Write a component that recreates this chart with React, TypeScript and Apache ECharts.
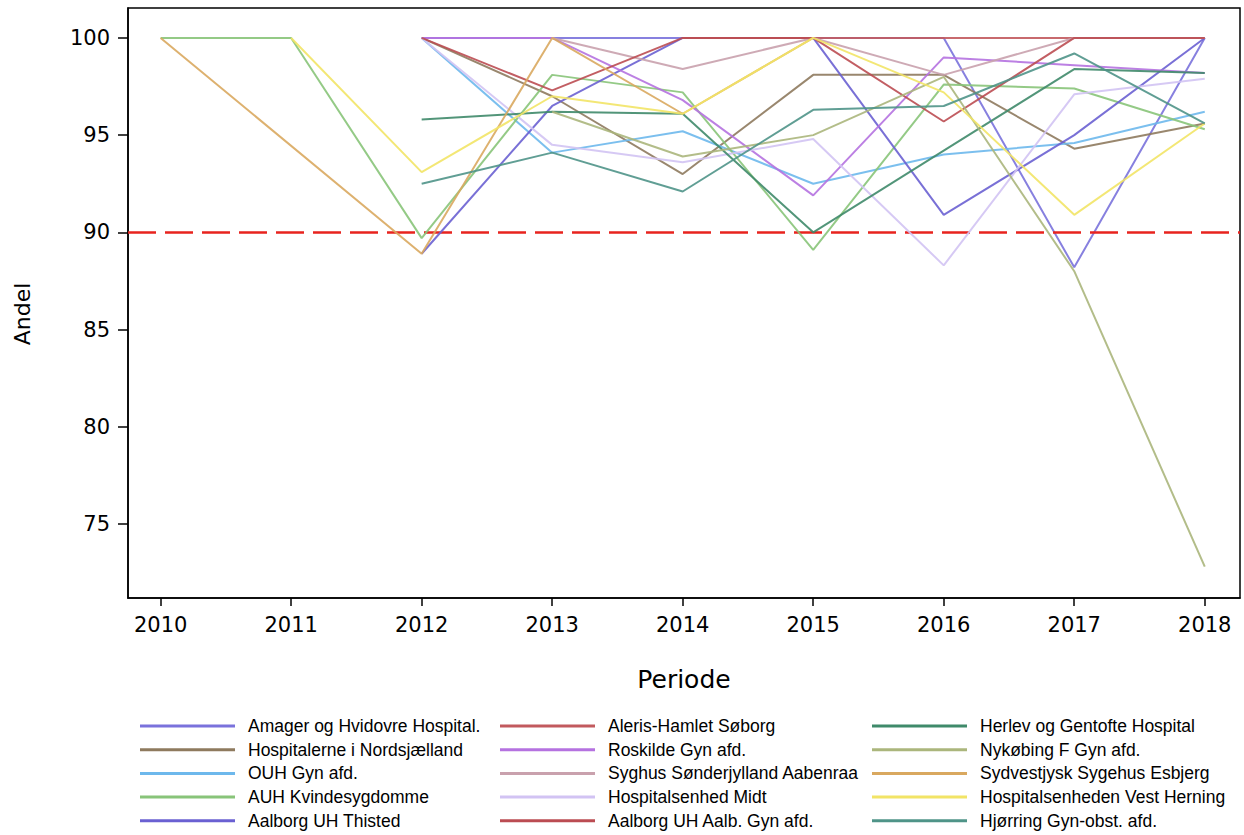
import React, { useEffect, useRef } from "react";
import * as echarts from "echarts";

const years = [2010, 2011, 2012, 2013, 2014, 2015, 2016, 2017, 2018];
const xTickLabels = ["2010", "2011", "2012", "2013", "2014", "2015", "2016", "2017", "2018"];
const yTickValues = [75, 80, 85, 90, 95, 100];
const targetLevel = 90;

const seriesNames = [
  "Amager og Hvidovre Hospital.",
  "Hospitalerne i Nordsjælland",
  "OUH Gyn afd.",
  "AUH Kvindesygdomme",
  "Aalborg UH Thisted",
  "Aleris-Hamlet Søborg",
  "Roskilde Gyn afd.",
  "Syghus Sønderjylland Aabenraa",
  "Hospitalsenhed Midt",
  "Aalborg UH Aalb. Gyn afd.",
  "Herlev og Gentofte Hospital",
  "Nykøbing F Gyn afd.",
  "Sydvestjysk Sygehus Esbjerg",
  "Hospitalsenheden Vest Herning",
  "Hjørring Gyn-obst. afd.",
];

const amager = [null, null, 100, 100, 100, 100, 100, 88.2, 100];
const nordsjaelland = [null, null, 100, 97.0, 93.0, 98.1, 98.1, 94.3, 95.6];
const ouh = [null, null, 100, 94.1, 95.2, 92.5, 94.0, 94.6, 96.2];
const auh = [100, 100, 89.7, 98.1, 97.2, 89.1, 97.6, 97.4, 95.3];
const thisted = [null, null, 88.9, 96.5, 100, 100, 90.9, 95.0, 100];
const aleris = [null, null, null, null, 100, 100, 100, 100, 100];
const roskilde = [null, null, 100, 100, 96.8, 91.9, 99.0, 98.6, 98.2];
const aabenraa = [null, null, null, 100, 98.4, 100, 98.1, 100, 100];
const midt = [null, null, 100, 94.5, 93.6, 94.8, 88.3, 97.1, 97.9];
const aalborgGyn = [null, null, 100, 97.3, 100, 100, 95.7, 100, 100];
const herlev = [null, null, 95.8, 96.2, 96.1, 90.0, 94.2, 98.4, 98.2];
const nykobing = [null, null, null, 96.2, 93.9, 95.0, 98.0, 88.0, 72.8];
const esbjerg = [100, null, 88.9, 100, 96.1, 100, null, null, null];
const herning = [null, 100, 93.1, 97.0, 96.1, 100, 97.2, 90.9, 95.6];
const hjorring = [null, null, 92.5, 94.1, 92.1, 96.3, 96.5, 99.2, 95.6];

const seriesValues = [
  amager, nordsjaelland, ouh, auh, thisted,
  aleris, roskilde, aabenraa, midt, aalborgGyn,
  herlev, nykobing, esbjerg, herning, hjorring,
];

const seriesColors = [
  "#7a72dc", "#8e7a5e", "#6db8ec", "#88c479", "#6a60d2",
  "#c25a5e", "#b572e0", "#c9a1ad", "#d2c3f3", "#bb4c52",
  "#3f8a6a", "#abb67c", "#d9a85f", "#f2e466", "#4f9488",
];

export default function App() {
  const ref = useRef<HTMLDivElement>(null);

  useEffect(() => {
    if (!ref.current) return;
    const chart = echarts.init(ref.current, null, { renderer: "svg" });

    const lineSeries = seriesNames.map((name, i) => ({
      name,
      type: "line",
      data: years
        .map((y, j) => [y, seriesValues[i][j]])
        .filter((d) => d[1] !== null && d[1] !== undefined),
      showSymbol: false,
      symbol: "none",
      color: seriesColors[i],
      lineStyle: { width: 2, color: seriesColors[i], opacity: 0.9 },
      z: 2 + i,
    }));

    const refSeries = {
      type: "line",
      data: [],
      silent: true,
      markLine: {
        silent: true,
        symbol: ["none", "none"],
        label: { show: false },
        lineStyle: { color: "#e8231e", width: 2.5, type: [28, 9] },
        data: [{ yAxis: targetLevel }],
      },
      z: 1,
    };

    const legendCommon = {
      orient: "vertical",
      icon: "rect",
      itemWidth: 95,
      itemHeight: 3,
      itemGap: 3.7,
      padding: 0,
      selectedMode: false,
      textStyle: {
        fontFamily: "'Liberation Sans', Arial, sans-serif",
        fontSize: 17.5,
        color: "#000",
        lineHeight: 20,
        padding: [0, 0, 0, 8],
      },
    };

    const option = {
      animation: false,
      backgroundColor: "#fff",
      grid: {
        left: 128,
        right: 4,
        top: 8,
        bottom: 237,
        show: true,
        borderColor: "#000",
        borderWidth: 1.5,
        containLabel: false,
        outerBoundsMode: "none",
      },
      xAxis: {
        type: "value",
        min: 2009.75,
        max: 2018.27,
        splitLine: { show: false },
        axisLine: { show: true, lineStyle: { color: "#000", width: 1.5 } },
        axisTick: {
          show: true,
          inside: false,
          length: 8,
          customValues: years,
          lineStyle: { color: "#000", width: 1.5 },
        },
        axisLabel: {
          customValues: years,
          margin: 16,
          color: "#000",
          fontFamily: "'DejaVu Sans', sans-serif",
          fontSize: 21,
          formatter: (v: number) => {
            const i = years.indexOf(Math.round(v));
            return i >= 0 ? xTickLabels[i] : "";
          },
        },
      },
      yAxis: {
        type: "value",
        min: 71.19,
        max: 101.54,
        splitLine: { show: false },
        axisLine: { show: true, lineStyle: { color: "#000", width: 1.5 } },
        axisTick: {
          show: true,
          inside: false,
          length: 10,
          customValues: yTickValues,
          lineStyle: { color: "#000", width: 1.5 },
        },
        axisLabel: {
          customValues: yTickValues,
          margin: 18,
          color: "#000",
          fontFamily: "'DejaVu Sans', sans-serif",
          fontSize: 21,
          formatter: (v: number) => String(Math.round(v)),
        },
      },
      legend: [
        { ...legendCommon, left: 140, top: 716, data: seriesNames.slice(0, 5) },
        { ...legendCommon, left: 500, top: 716, data: seriesNames.slice(5, 10) },
        { ...legendCommon, left: 872, top: 716, data: seriesNames.slice(10, 15) },
      ],
      graphic: [
        {
          type: "text",
          x: 684,
          y: 679,
          style: {
            text: "Periode",
            fontFamily: "'DejaVu Sans', sans-serif",
            fontSize: 25,
            fill: "#000",
            textAlign: "center",
            textVerticalAlign: "middle",
          },
        },
        {
          type: "text",
          x: 22,
          y: 314,
          rotation: Math.PI / 2,
          style: {
            text: "Andel",
            fontFamily: "'DejaVu Sans', sans-serif",
            fontSize: 22,
            fill: "#000",
            textAlign: "center",
            textVerticalAlign: "middle",
          },
        },
      ],
      series: [refSeries, ...lineSeries],
    };

    chart.setOption(option as any);
    return () => chart.dispose();
  }, []);

  return (
    <div
      ref={ref}
      style={{ position: "fixed", left: 0, top: 0, width: 1244, height: 835, background: "#fff" }}
    />
  );
}
